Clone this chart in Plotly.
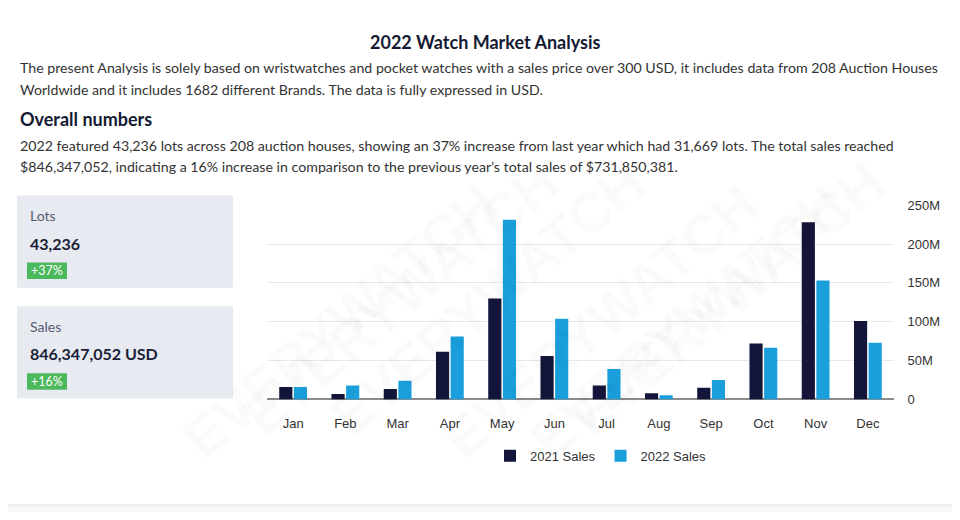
import plotly.graph_objects as go

months = ["Jan", "Feb", "Mar", "Apr", "May", "Jun", "Jul", "Aug", "Sep", "Oct", "Nov", "Dec"]
sales_2021 = [16e6, 7e6, 13.5e6, 61.5e6, 130e6, 56e6, 18e6, 8e6, 15e6, 72e6, 228e6, 101e6]
sales_2022 = [16e6, 18e6, 24e6, 81e6, 231.5e6, 104e6, 39e6, 5.5e6, 25e6, 66.5e6, 153e6, 73e6]
tick_vals = [0, 50e6, 100e6, 150e6, 200e6, 250e6]
tick_text = ["0", "50M", "100M", "150M", "200M", "250M"]

# the page adds an 8px body margin, so the figure is laid out in page coordinates shifted by 8px
OFF = 8
W, H = 960 - OFF, 520 - OFF
def px(x):
    return (x - OFF) / W
def py(y):
    return 1 - (y - OFF) / H

TXT_FONT = "Lato, 'Open Sans', sans-serif"
CHART_FONT = "'Liberation Sans', Arial, sans-serif"

fig = go.Figure()
fig.add_trace(go.Bar(x=months, y=sales_2021, name="2021 Sales", marker_color="#13163a", marker_line_width=0))
fig.add_trace(go.Bar(x=months, y=sales_2022, name="2022 Sales", marker_color="#1a9fdc", marker_line_width=0))

annotations = []
def txt(x, y, s, size, color, bold=False, xanchor="left"):
    if bold:
        s = "<b>" + s + "</b>"
    annotations.append(dict(x=px(x), y=py(y), xref="paper", yref="paper", text=s, showarrow=False,
                            xanchor=xanchor, yanchor="middle",
                            font=dict(family=TXT_FONT, size=size, color=color)))

# faint watermark
for (wx, wy) in [(400, 300), (660, 300), (900, 300), (340, 480), (600, 480), (860, 480)]:
    annotations.append(dict(x=px(wx), y=py(wy), xref="paper", yref="paper", text="<b>EVERYWATCH</b>",
                            showarrow=False, textangle=-40,
                            font=dict(family=CHART_FONT, size=56, color="rgba(0,0,0,0.018)")))

txt(485, 36, "2022 Watch Market Analysis", 18, "#151a33", bold=True, xanchor="center")
txt(18, 62, "The present Analysis is solely based on wristwatches and pocket watches with a sales price over 300 USD, it includes data from 208 Auction Houses", 14.2, "#333333")
txt(18, 85, "Worldwide and it includes 1682 different Brands. The data is fully expressed in USD.", 14.2, "#333333")
txt(18, 115, "Overall numbers", 18, "#151a33", bold=True)
txt(18, 142, "2022 featured 43,236 lots across 208 auction houses, showing an 37% increase from last year which had 31,669 lots. The total sales reached", 14.2, "#333333")
txt(18, 164, "$846,347,052, indicating a 16% increase in comparison to the previous year\u2019s total sales of $731,850,381.", 14.2, "#333333")

shapes = []
# bottom separator
shapes.append(dict(type="rect", xref="paper", yref="paper", x0=0, x1=1, y0=0, y1=py(513),
                   fillcolor="#f7f7f9", line_width=0, layer="below"))
shapes.append(dict(type="line", xref="paper", yref="paper", x0=0, x1=1, y0=py(513), y1=py(513),
                   line=dict(color="#ebebee", width=2), layer="below"))

# stat boxes
for (top, label, value, badge) in [(194, "Lots", "43,236", "+37%"), (308, "Sales", "846,347,052 USD", "+16%")]:
    shapes.append(dict(type="rect", xref="paper", yref="paper", x0=px(17), x1=px(233), y0=py(top + 95), y1=py(top),
                       fillcolor="#e8eaf2", line_width=0, layer="below"))
    shapes.append(dict(type="rect", xref="paper", yref="paper", x0=px(27), x1=px(67), y0=py(top + 86), y1=py(top + 69),
                       fillcolor="#4cb85c", line_width=0, layer="below"))
    txt(28, top + 21, label, 14, "#555a70")
    txt(28, top + 49, value, 16, "#1a1f36", bold=True)
    txt(47, top + 77.5, badge, 12.5, "#ffffff", xanchor="center")

fig.update_layout(
    width=W, height=H,
    margin=dict(l=0, r=0, t=0, b=0),
    paper_bgcolor="white", plot_bgcolor="white",
    barmode="group", bargap=0.44, bargroupgap=0.1,
    showlegend=True,
    legend=dict(orientation="h", x=px(601), y=py(462), xanchor="center", yanchor="middle",
                font=dict(family=CHART_FONT, size=13, color="#333333"), itemwidth=30,
                bgcolor="rgba(0,0,0,0)"),
    xaxis=dict(domain=[px(267), px(894)], showgrid=False, showline=False, zeroline=False,
               ticks="outside", ticklen=12, tickcolor="rgba(0,0,0,0)",
               tickfont=dict(family=CHART_FONT, size=13, color="#333333")),
    yaxis=dict(domain=[py(404), py(204)], range=[0, 250e6], side="right",
               tickvals=tick_vals, ticktext=tick_text,
               showgrid=True, gridcolor="#e8e8e8", gridwidth=1,
               zeroline=True, zerolinecolor="#8c8c8c", zerolinewidth=1.5,
               ticks="outside", ticklen=10, tickcolor="rgba(0,0,0,0)",
               tickfont=dict(family=CHART_FONT, size=13, color="#333333")),
    annotations=annotations,
    shapes=shapes,
    hovermode=False,
)

fig.write_html("out.html")
